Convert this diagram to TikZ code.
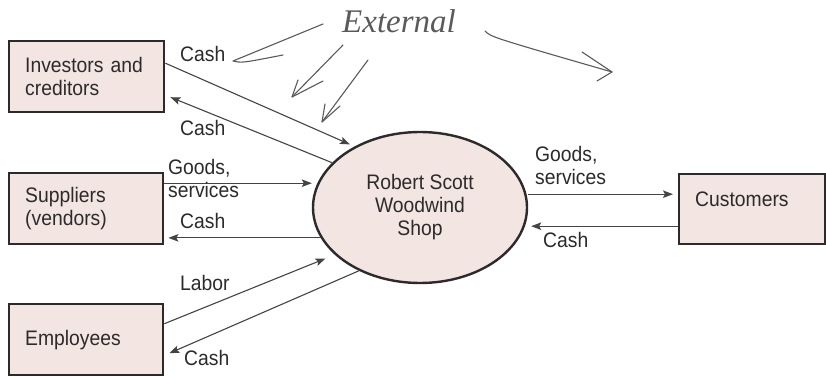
\documentclass[tikz,border=0pt]{standalone}
\usepackage{fontspec}
\setmainfont{Liberation Sans}[FakeStretch=0.92]
\newfontfamily\handfont{Liberation Serif}
\usetikzlibrary{shapes.geometric,arrows.meta,calc}
\definecolor{boxfill}{HTML}{F3E5E1}
\definecolor{ink}{HTML}{2B2B2B}
\definecolor{flowline}{HTML}{444444}
\definecolor{pencil}{HTML}{5A5A5A}
\begin{document}
\begin{tikzpicture}[x=1pt,y=-1pt,
  font=\fontsize{21}{23}\selectfont, text=ink,
  entity/.style={draw=ink, line width=2.4pt, fill=boxfill, rectangle,
    anchor=north west, align=left, inner xsep=16pt, inner ysep=2pt},
  process/.style={draw=ink, line width=2.4pt, fill=boxfill, ellipse,
    minimum width=214pt, minimum height=151pt, align=center, inner sep=0pt},
  flow/.style={draw=flowline, line width=1.1pt,
    -{Stealth[length=10pt,width=7.5pt,inset=2pt]}},
  flowlabel/.style={anchor=base west, inner sep=0pt},
  flowlabels/.style={anchor=north west, inner sep=0pt, align=left},
  hand/.style={draw=pencil, line width=1.1pt, line cap=round, line join=round},
]
\useasboundingbox (0,0) rectangle (826,377);
\fill[white] (0,0) rectangle (826,377);

% external entities and the business
\node[entity, text width=123pt, minimum height=71pt] (inv) at (8,40) {Investors and\\creditors};
\node[entity, text width=122pt, minimum height=71pt] (sup) at (8,172) {Suppliers\\(vendors)};
\node[entity, text width=122pt, minimum height=71pt] (emp) at (8,303) {Employees};
\node[entity, text width=114pt, minimum height=70pt, text height=15pt, text depth=21pt] (cust) at (678,173) {Customers};
\node[process] (shop) at (420,207.5) {Robert Scott\\Woodwind\\Shop};

% flows between the entities and the shop
\draw[flow, shorten >=5pt] ($(inv.east)+(0,-13.5)$) -- (shop.137);
\draw[flow] (shop.153) -- ($(inv.east)+(5,20.5)$);

\coordinate (g1) at ($(sup.east)+(0,-25.5)$);
\draw[flow] (g1) -- (g1 -| shop.west);
\coordinate (c2) at (shop.197);
\draw[flow] (c2) -- ($(c2 -| sup.east)+(4,0)$);

\draw[flow, shorten >=10pt] ($(emp.east)+(0,-16)$) -- (shop.209);
\draw[flow] (shop.226) -- ($(emp.east)+(5,13.5)$);

\coordinate (g3) at ($(cust.west)+(0,-15)$);
\draw[flow] (g3 -| shop.east) -- ($(g3)+(-5,0)$);
\coordinate (c4) at ($(cust.west)+(0,17)$);
\draw[flow] (c4) -- ($(c4 -| shop.east)+(3,0)$);

% flow labels
\node[flowlabel] (lInvIn) at (180,62) {Cash};
\node[flowlabel] (lInvOut) at (180,135) {Cash};
\node[flowlabels] (lSupIn) at (168,159.5) {Goods,\\services};
\node[flowlabel] (lSupOut) at (180,228) {Cash};
\node[flowlabel] (lEmpIn) at (180,290) {Labor};
\node[flowlabel] (lEmpOut) at (184,365) {Cash};
\node[flowlabels] (lCustOut) at (535,146.5) {Goods,\\services};
\node[flowlabel] (lCustIn) at (543,247) {Cash};

% pencil note
\node[anchor=base west, inner sep=0pt, text=pencil,
  font=\handfont\itshape\fontsize{33}{33}\selectfont] (ext) at (342,33) {External};
\draw[hand] (323,24) -- (233,61) .. controls (242,63) .. (283,55);
\draw[hand] (343,45) -- (292,97);
\draw[hand] (298,80) -- (292,97) -- (323,81);
\draw[hand] (368,60) -- (322,122);
\draw[hand] (325,104) -- (322,122) -- (340,106);
\draw[hand] (485,31) .. controls (491,37) .. (612,72);
\draw[hand] (582,52) -- (612,72) -- (597,81);
\end{tikzpicture}
\end{document}
